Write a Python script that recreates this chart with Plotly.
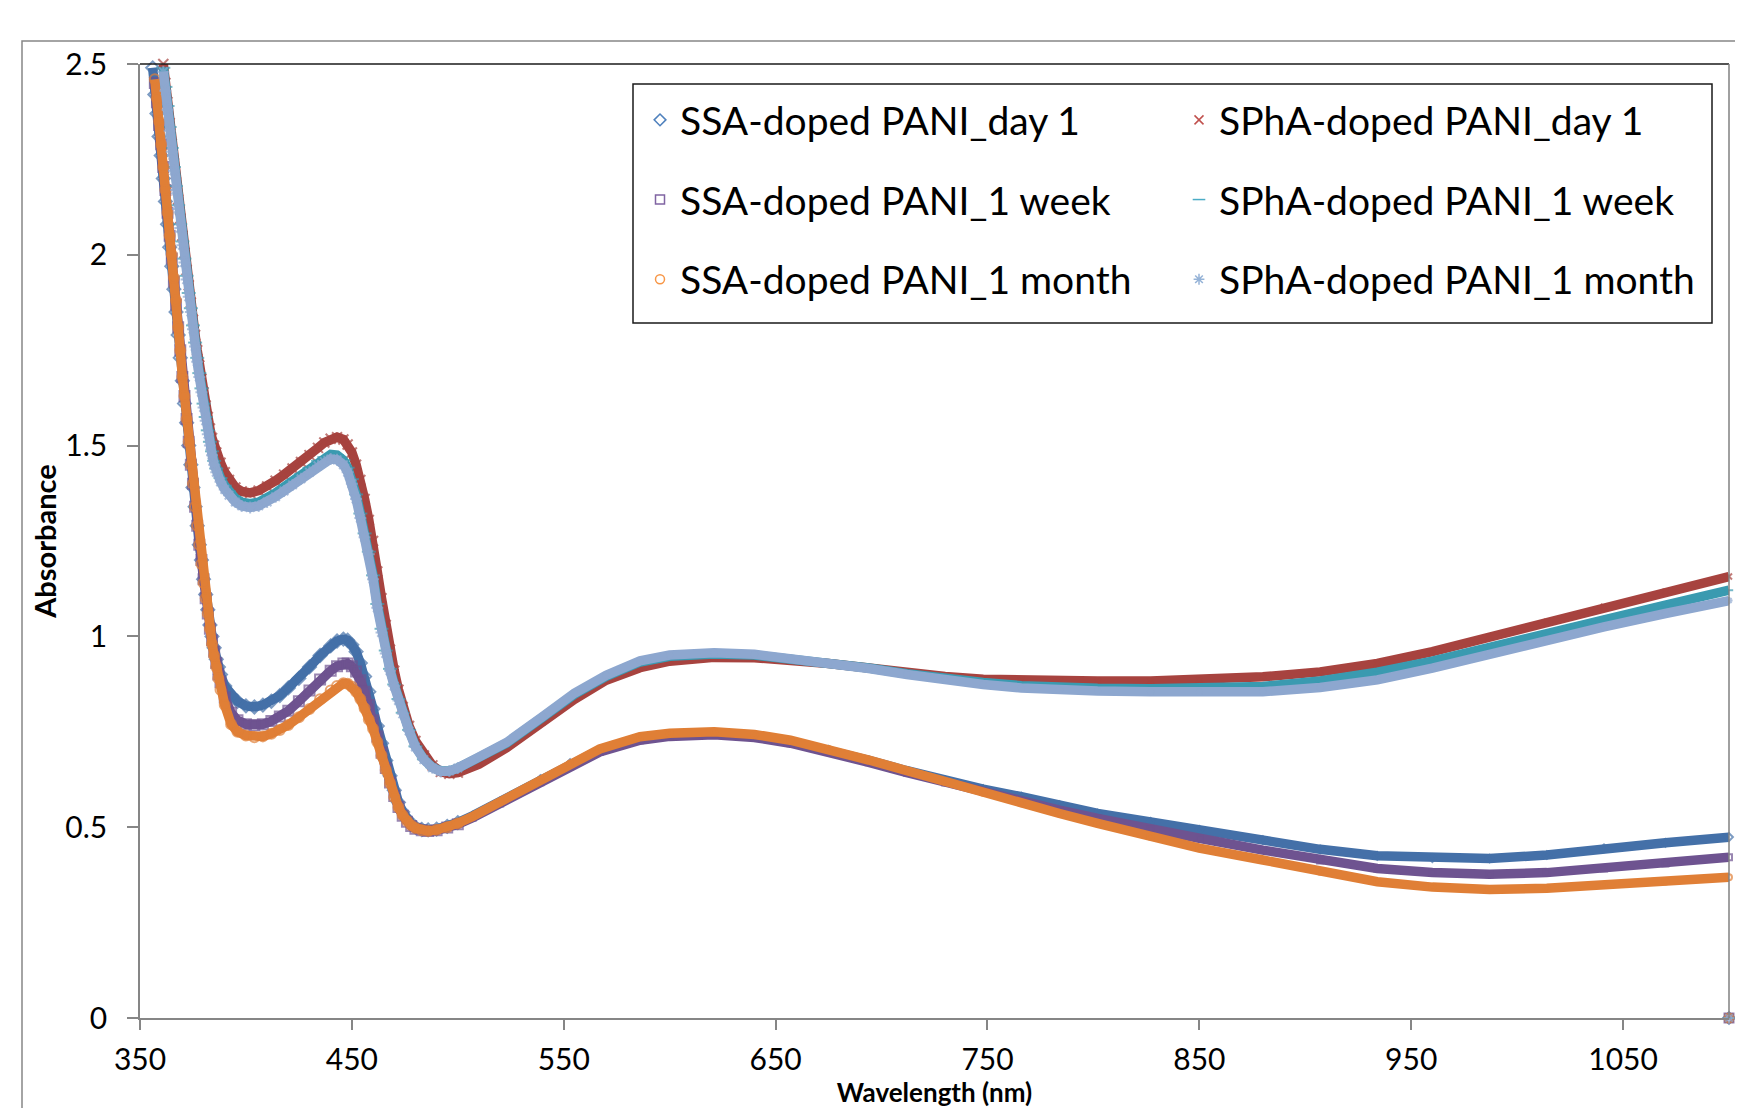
import plotly.graph_objects as go

# ---------------- data ----------------
wl_ssa = [356, 357, 358, 359, 360, 361, 362, 363, 364, 365, 366, 367, 368, 369, 370,
          371, 372, 373, 374, 375, 376, 377, 378, 379, 380, 381, 382, 383, 384, 385,
          386, 387, 388,
          390, 393, 396, 400, 404, 408, 412, 416, 420, 425,
          430, 435, 440, 443, 446, 448, 450, 452, 454, 456,
          458, 460, 462, 464, 466, 468, 470, 472, 474, 476,
          478, 480, 483, 486, 490, 495, 500, 507, 520, 539,
          553, 567, 586, 600, 621, 640, 657, 675, 694, 712,
          730, 748, 766, 784, 802, 827, 850, 880, 907, 934,
          960, 987, 1014, 1041, 1070, 1100,
          None, 1100]

ssa_day1 = [2.49, 2.42, 2.37, 2.31, 2.26, 2.20, 2.14, 2.08, 2.02, 1.97, 1.91, 1.85, 1.79, 1.73, 1.67,
            1.61, 1.56, 1.50, 1.45, 1.39, 1.34, 1.29, 1.24, 1.20, 1.15, 1.11, 1.07, 1.03, 1.00, 0.97,
            0.94, 0.92, 0.90,
            0.87, 0.845, 0.83, 0.818, 0.815, 0.82, 0.83, 0.845, 0.865, 0.89,
            0.92, 0.95, 0.975, 0.988, 0.993, 0.99, 0.978, 0.96, 0.93, 0.895,
            0.855, 0.81, 0.765, 0.72, 0.675, 0.635, 0.597, 0.565, 0.540, 0.522,
            0.509, 0.500, 0.494, 0.493, 0.495, 0.502, 0.512, 0.530, 0.568, 0.626,
            0.668, 0.703, 0.733, 0.743, 0.747, 0.740, 0.725, 0.703, 0.675, 0.648,
            0.622, 0.600, 0.580, 0.558, 0.536, 0.514, 0.493, 0.466, 0.442, 0.425,
            0.419, 0.418, 0.427, 0.445, 0.459, 0.474,
            None, 0.0]

ssa_week = [None, 2.45, 2.40, 2.34, 2.29, 2.23, 2.17, 2.11, 2.05, 1.99, 1.93, 1.87, 1.81, 1.75, 1.68,
            1.63, 1.57, 1.51, 1.45, 1.40, 1.34, 1.29, 1.24, 1.20, 1.15, 1.10, 1.06, 1.02, 0.99, 0.96,
            0.93, 0.90, 0.88,
            0.84, 0.80, 0.78, 0.770, 0.767, 0.770, 0.778, 0.79, 0.805, 0.83,
            0.858, 0.887, 0.91, 0.922, 0.929, 0.929, 0.922, 0.908, 0.885, 0.855,
            0.82, 0.78, 0.738, 0.695, 0.655, 0.617, 0.582, 0.553, 0.530, 0.514,
            0.503, 0.496, 0.492, 0.490, 0.492, 0.499, 0.508, 0.525, 0.562, 0.618,
            0.66, 0.697, 0.728, 0.738, 0.742, 0.735, 0.720, 0.698, 0.670, 0.643,
            0.617, 0.592, 0.568, 0.545, 0.523, 0.493, 0.471, 0.440, 0.413, 0.392,
            0.381, 0.377, 0.381, 0.392, 0.405, 0.421,
            None, 0.0]

ssa_month = [None, 2.46, 2.41, 2.35, 2.29, 2.23, 2.17, 2.11, 2.05, 2.00, 1.94, 1.88, 1.81, 1.75, 1.68,
             1.63, 1.57, 1.51, 1.45, 1.40, 1.34, 1.29, 1.24, 1.19, 1.14, 1.10, 1.06, 1.02, 0.98, 0.95,
             0.92, 0.89, 0.86,
             0.82, 0.77, 0.75, 0.740, 0.736, 0.738, 0.745, 0.755, 0.768, 0.788,
             0.81, 0.835, 0.858, 0.870, 0.877, 0.876, 0.868, 0.855, 0.836, 0.812,
             0.782, 0.758, 0.723, 0.688, 0.65, 0.615, 0.579, 0.552, 0.531, 0.516,
             0.505, 0.498, 0.492, 0.490, 0.493, 0.500, 0.510, 0.528, 0.566, 0.624,
             0.667, 0.705, 0.737, 0.746, 0.750, 0.743, 0.728, 0.705, 0.676, 0.648,
             0.619, 0.590, 0.563, 0.536, 0.510, 0.475, 0.445, 0.414, 0.383, 0.357,
             0.343, 0.337, 0.340, 0.349, 0.358, 0.369,
             None, 0.0]

wl_spha = [361, 362, 363, 364, 365, 366, 367, 368, 369, 370, 371, 372, 373, 374, 375,
           376, 377, 378, 379, 380, 381, 382, 383, 384, 385, 386,
           388, 390, 392, 395, 398, 402, 406, 410, 414, 418,
           422, 426, 430, 434, 437, 440, 443, 446, 448, 450,
           452, 454, 456, 458, 460, 462, 464, 466, 468, 470,
           472, 474, 477, 480, 484, 488, 492, 496, 500, 510,
           523, 540, 555, 570, 586, 600, 621, 640, 657, 675,
           694, 712, 730, 748, 766, 784, 802, 827, 850, 880,
           907, 934, 960, 987, 1014, 1041, 1070, 1100,
           None, 1100]

spha_day1 = [2.50, 2.45, 2.40, 2.345, 2.29, 2.24, 2.19, 2.145, 2.095, 2.05, 2.005, 1.96, 1.92, 1.875, 1.83,
             1.79, 1.75, 1.71, 1.675, 1.64, 1.605, 1.575, 1.545, 1.52, 1.50, 1.482,
             1.455, 1.43, 1.41, 1.39, 1.38, 1.376, 1.382, 1.393, 1.408, 1.424,
             1.44, 1.457, 1.475, 1.494, 1.508, 1.518, 1.522, 1.516, 1.503, 1.482,
             1.45, 1.41, 1.36, 1.305, 1.25, 1.17, 1.10, 1.03, 0.965, 0.91,
             0.86, 0.815, 0.765, 0.726, 0.688, 0.662, 0.645, 0.64, 0.643, 0.665,
             0.708, 0.775, 0.835, 0.885, 0.918, 0.935, 0.945, 0.944, 0.938, 0.929,
             0.917, 0.905, 0.895, 0.888, 0.885, 0.883, 0.883, 0.883, 0.886, 0.894,
             0.907, 0.929, 0.96, 0.999, 1.038, 1.078, 1.117, 1.157,
             None, 0.0]

spha_week = [2.49, 2.44, 2.39, 2.335, 2.28, 2.23, 2.18, 2.13, 2.08, 2.035, 1.99, 1.945, 1.90, 1.86, 1.815,
             1.77, 1.73, 1.69, 1.65, 1.61, 1.575, 1.54, 1.51, 1.485, 1.46, 1.44,
             1.415, 1.395, 1.38, 1.362, 1.352, 1.348, 1.352, 1.362, 1.376, 1.392,
             1.408, 1.425, 1.442, 1.46, 1.47, 1.477, 1.475, 1.462, 1.442, 1.412,
             1.372, 1.322, 1.27, 1.222, 1.16, 1.085, 1.02, 0.963, 0.915, 0.874,
             0.836, 0.80, 0.755, 0.712, 0.678, 0.657, 0.647, 0.647, 0.655, 0.683,
             0.72, 0.788, 0.848, 0.895, 0.933, 0.948, 0.954, 0.951, 0.942, 0.93,
             0.917, 0.902, 0.889, 0.879, 0.871, 0.866, 0.864, 0.863, 0.864, 0.869,
             0.883, 0.906, 0.935, 0.969, 1.005, 1.043, 1.082, 1.121,
             None, 0.0]

spha_month = [2.48, 2.43, 2.38, 2.325, 2.27, 2.22, 2.17, 2.12, 2.07, 2.025, 1.98, 1.935, 1.89, 1.85, 1.805,
              1.76, 1.72, 1.68, 1.64, 1.60, 1.565, 1.53, 1.50, 1.475, 1.45, 1.43,
              1.405, 1.385, 1.37, 1.352, 1.342, 1.338, 1.342, 1.352, 1.366, 1.381,
              1.397, 1.413, 1.43, 1.447, 1.458, 1.465, 1.463, 1.45, 1.43, 1.40,
              1.36, 1.31, 1.26, 1.215, 1.15, 1.075, 1.01, 0.955, 0.91, 0.87,
              0.832, 0.797, 0.752, 0.71, 0.677, 0.656, 0.646, 0.647, 0.655, 0.684,
              0.722, 0.79, 0.851, 0.898, 0.936, 0.951, 0.957, 0.953, 0.943, 0.93,
              0.916, 0.90, 0.886, 0.874, 0.865, 0.86, 0.857, 0.855, 0.854, 0.855,
              0.866, 0.886, 0.917, 0.955, 0.99, 1.025, 1.06, 1.094,
              None, 0.0]

names = ["SSA-doped PANI_day 1", "SPhA-doped PANI_day 1",
         "SSA-doped PANI_1 week", "SPhA-doped PANI_1 week",
         "SSA-doped PANI_1 month", "SPhA-doped PANI_1 month"]

x_ticks = [350, 450, 550, 650, 750, 850, 950, 1050]
y_ticks = [0, 0.5, 1, 1.5, 2, 2.5]

# ---------------- styling ----------------
FONT = "Lato, 'Open Sans', sans-serif"
band_colors = ["#4470A8", "#A7433F", "#6E5390", "#3A9AB0", "#E07F36", "#8DA7CF"]
legend_colors = ["#4F81BD", "#C0504D", "#8064A2", "#4BACC6", "#F79646", "#95B3D7"]
symbols = ["diamond-open", "x-thin-open", "square-open", "line-ew-open", "circle-open", "asterisk-open"]
legend_ids = ["legend", "legend2", "legend", "legend2", "legend", "legend2"]
xs = [wl_ssa, wl_spha, wl_ssa, wl_spha, wl_ssa, wl_spha]
ys = [ssa_day1, spha_day1, ssa_week, spha_week, ssa_month, spha_month]


def marker_sizes(wl):
    # individual markers stand out in the steep UV part; elsewhere they merge into the band
    sizes = [10 if (w is not None and w <= 500) else 6 for w in wl]
    sizes[-1] = 9
    return sizes


fig = go.Figure()
for i in range(6):
    fig.add_trace(go.Scatter(
        x=xs[i], y=ys[i], mode="lines+markers", name=names[i], showlegend=False,
        line=dict(color=band_colors[i], width=9.5),
        marker=dict(symbol=symbols[i], size=marker_sizes(xs[i]), color=band_colors[i],
                    line=dict(color=band_colors[i], width=2)),
        cliponaxis=False, hoverinfo="skip"))

for i in range(6):
    fig.add_trace(go.Scatter(
        x=[None], y=[None], mode="markers", name=names[i], legend=legend_ids[i],
        legendgroup=names[i],
        marker=dict(symbol=symbols[i], size=9, color=legend_colors[i],
                    line=dict(color=legend_colors[i], width=1.5))))

# the page body has an 8px margin; work in window pixels and convert
OFF = 8
W, H = 1743 - 2 * OFF, 1124 - OFF
PL, PR, PT, PB = 140, 1729, 64, 1018          # plot-area edges in window pixels
L, R, T, B = PL - OFF, W - (PR - OFF), PT - OFF, H - (PB - OFF)
pw, ph = W - L - R, H - T - B


def px(xwin):
    return (xwin - OFF - L) / pw


def py(ywin):
    return 1 - (ywin - OFF - T) / ph


legend_common = dict(orientation="v", xanchor="left", yanchor="top",
                     bgcolor="rgba(0,0,0,0)", borderwidth=0,
                     font=dict(family=FONT, size=39, color="black"),
                     tracegroupgap=26, itemsizing="trace")

axis_common = dict(ticks="outside", tickcolor="#868686", tickwidth=1.5, showline=True,
                   linecolor="#868686", linewidth=1.5, showgrid=False, zeroline=False,
                   automargin=False,
                   tickfont=dict(family=FONT, size=30, color="black"))

fig.update_layout(
    width=W, height=H,
    margin=dict(l=L, r=R, t=T, b=B, autoexpand=False),
    paper_bgcolor="white", plot_bgcolor="white",
    font=dict(family=FONT, color="black"),
    legend=dict(x=px(640), y=py(88), **legend_common),
    legend2=dict(x=px(1179), y=py(88), **legend_common),
    xaxis=dict(range=[350, 1100], tickvals=x_ticks, ticklen=10, ticklabelstandoff=4,
               title=dict(text="<b>Wavelength (nm)</b>", standoff=0,
                          font=dict(family=FONT, size=26, color="black")),
               **axis_common),
    yaxis=dict(range=[0, 2.5], tickvals=y_ticks, ticklen=11, ticklabelstandoff=14,
               title=dict(text="<b>Absorbance</b>", standoff=0,
                          font=dict(family=FONT, size=29, color="black")),
               **axis_common),
    shapes=[
        # outer chart-area border (extends past the cropped picture)
        dict(type="rect", xref="paper", yref="paper", x0=px(22), x1=px(1780),
             y0=py(1160), y1=py(41), line=dict(color="#868686", width=1.5), layer="below"),
        # plot-area frame: top and right edges
        dict(type="line", xref="paper", yref="paper", x0=0, x1=1, y0=1, y1=1,
             line=dict(color="#1a1a1a", width=1.5)),
        dict(type="line", xref="paper", yref="paper", x0=1, x1=1, y0=0, y1=1,
             line=dict(color="#808080", width=1.5)),
        # legend frame
        dict(type="rect", xref="paper", yref="paper", x0=px(633), x1=px(1712),
             y0=py(323), y1=py(84), line=dict(color="#1a1a1a", width=1.5),
             fillcolor="white", layer="below"),
    ],
)

fig.write_html("out.html")
